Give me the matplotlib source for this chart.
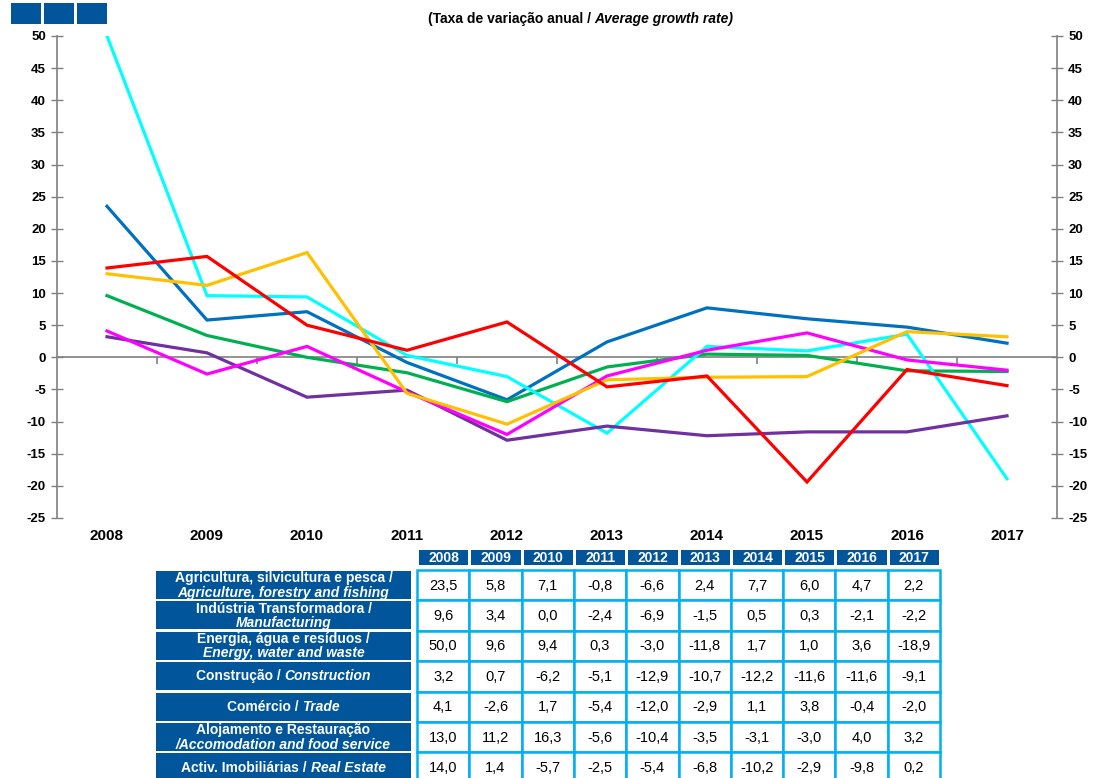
import numpy as np
import matplotlib
matplotlib.use('Agg')
import matplotlib.pyplot as plt
from matplotlib.patches import Rectangle

# ---------------- data ----------------
years = ['2008', '2009', '2010', '2011', '2012', '2013', '2014', '2015', '2016', '2017']
agriculture = [23.5, 5.8, 7.1, -0.8, -6.6, 2.4, 7.7, 6.0, 4.7, 2.2]
manufacturing = [9.6, 3.4, 0.0, -2.4, -6.9, -1.5, 0.5, 0.3, -2.1, -2.2]
energy = [50.0, 9.6, 9.4, 0.3, -3.0, -11.8, 1.7, 1.0, 3.6, -18.9]
construction = [3.2, 0.7, -6.2, -5.1, -12.9, -10.7, -12.2, -11.6, -11.6, -9.1]
trade = [4.1, -2.6, 1.7, -5.4, -12.0, -2.9, 1.1, 3.8, -0.4, -2.0]
accommodation = [13.0, 11.2, 16.3, -5.6, -10.4, -3.5, -3.1, -3.0, 4.0, 3.2]
real_estate = [14.0, 1.4, -5.7, -2.5, -5.4, -6.8, -10.2, -2.9, -9.8, 0.2]
# red line (series whose table row is not visible)
red_series = [13.9, 15.7, 5.0, 1.1, 5.5, -4.6, -2.9, -19.4, -1.9, -4.4]

row_labels = [
    [[("Agricultura, silvicultura e pesca /", False)], [("Agriculture, forestry and fishing", True)]],
    [[("Indústria Transformadora /", False)], [("Manufacturing", True)]],
    [[("Energia, água e resíduos /", False)], [("Energy, water and waste", True)]],
    [[("Construção /", False), ("Construction", True)]],
    [[("Comércio /", False), ("Trade", True)]],
    [[("Alojamento e Restauração", False)], [("/Accomodation and food service", True)]],
    [[("Activ. Imobiliárias /", False), ("Real Estate", True)]],
]
table_rows = [agriculture, manufacturing, energy, construction, trade, accommodation, real_estate]

line_series = [agriculture, manufacturing, energy, construction, trade, accommodation, red_series]
line_colors = ['#0070C0', '#00B050', '#00FFFF', '#7030A0', '#FF00FF', '#FFC000', '#FF0000']

DARK = '#00559B'
BORDER = '#00B0F0'
GRAY = '#808080'
FONT = ['Liberation Sans', 'DejaVu Sans']
NARROW = ['Liberation Sans Narrow', 'Liberation Sans', 'DejaVu Sans']

plt.rcParams['font.family'] = FONT
plt.rcParams['axes.unicode_minus'] = False

fig = plt.figure(figsize=(10.94, 7.78), dpi=100)
W, H = 1094, 778

# ---------------- chart ----------------
ax = fig.add_axes([57 / W, 1 - 518 / H, 1000 / W, (518 - 36) / H])
x = np.arange(len(years))
for vals, c in zip(line_series, line_colors):
    ax.plot(x, vals, color=c, lw=2.3, solid_joinstyle='miter', zorder=3)

ax.set_xlim(-0.5, len(years) - 0.5)
ax.set_ylim(-25, 50)
ax.set_yticks(np.arange(-25, 51, 5))
ax.set_xticks(x)
ax.set_xticklabels(years, fontsize=11, fontweight='bold')
ax.tick_params(axis='x', length=0, pad=8)
ax.tick_params(axis='y', which='both', direction='inout', length=8, width=1,
               color=GRAY, left=True, right=True, labelleft=True, labelright=True,
               labelsize=9.5, pad=4)
for lab in ax.get_yticklabels():
    lab.set_fontweight('bold')
for side in ['top', 'bottom']:
    ax.spines[side].set_visible(False)
for side in ['left', 'right']:
    ax.spines[side].set_color(GRAY)
    ax.spines[side].set_linewidth(1.2)
ax.axhline(0, color=GRAY, lw=1.2, zorder=2)
bounds = np.arange(0.5, len(years) - 1, 1.0)
ax.plot(bounds, np.zeros_like(bounds), ls='', marker=3, ms=5, mew=1.2, color=GRAY, zorder=2)

# ---------------- overlay (title, squares, table) ----------------
ov = fig.add_axes([0, 0, 1, 1])
ov.set_xlim(0, W)
ov.set_ylim(H, 0)
ov.axis('off')
ov.patch.set_visible(False)

renderer = fig.canvas.get_renderer()


def mixed_line(xc, y, parts, color, size, family, gap=4):
    texts = []
    for s, italic in parts:
        t = ov.text(0, y, s, fontsize=size, fontweight='bold',
                    fontstyle='italic' if italic else 'normal', color=color,
                    va='center', ha='left', family=family)
        texts.append(t)
    widths = [t.get_window_extent(renderer).width for t in texts]
    total = sum(widths) + gap * (len(texts) - 1)
    xx = xc - total / 2
    for t, w in zip(texts, widths):
        t.set_x(xx)
        xx += w + gap


# squares top-left
for x0 in [11, 44, 77]:
    ov.add_patch(Rectangle((x0, 3), 30, 21, facecolor=DARK, edgecolor='none'))

# subtitle
mixed_line(581, 19, [("(Taxa de variação anual /", False), ("Average growth rate)", True)],
           'black', 10, NARROW, gap=3)

# table geometry
lab_x0, lab_x1 = 156, 411
grid_x0 = 417
col_w = 52.3
head_y0, head_y1 = 550, 565
row_y0 = 570
row_h = 30.4

# header
for j, yr in enumerate(years):
    cx0 = grid_x0 + j * col_w
    ov.add_patch(Rectangle((cx0 + 2, head_y0), col_w - 3, head_y1 - head_y0,
                           facecolor=DARK, edgecolor='none'))
    ov.text(cx0 + col_w / 2 + 0.5, (head_y0 + head_y1) / 2 + 0.5, yr, color='white',
            fontsize=10, fontweight='bold', ha='center', va='center')

# rows
for i, (lab, vals) in enumerate(zip(row_labels, table_rows)):
    ry0 = row_y0 + i * row_h
    ov.add_patch(Rectangle((lab_x0, ry0 + 1), lab_x1 - lab_x0, row_h - 2.5,
                           facecolor=DARK, edgecolor='none'))
    cy = ry0 + row_h / 2
    if len(lab) == 1:
        mixed_line((lab_x0 + lab_x1) / 2, cy, lab[0], 'white', 10, FONT)
    else:
        mixed_line((lab_x0 + lab_x1) / 2, cy - 7, lab[0], 'white', 10, FONT)
        mixed_line((lab_x0 + lab_x1) / 2, cy + 7.5, lab[1], 'white', 10, FONT)
    for j, v in enumerate(vals):
        cx0 = grid_x0 + j * col_w
        ov.add_patch(Rectangle((cx0, ry0), col_w, row_h, facecolor='white',
                               edgecolor=BORDER, lw=1.8))
        ov.text(cx0 + col_w / 2, cy + 0.5, f"{v:.1f}".replace('.', ','), color='black',
                fontsize=10.5, ha='center', va='center')

fig.savefig('out.png', dpi=100)
